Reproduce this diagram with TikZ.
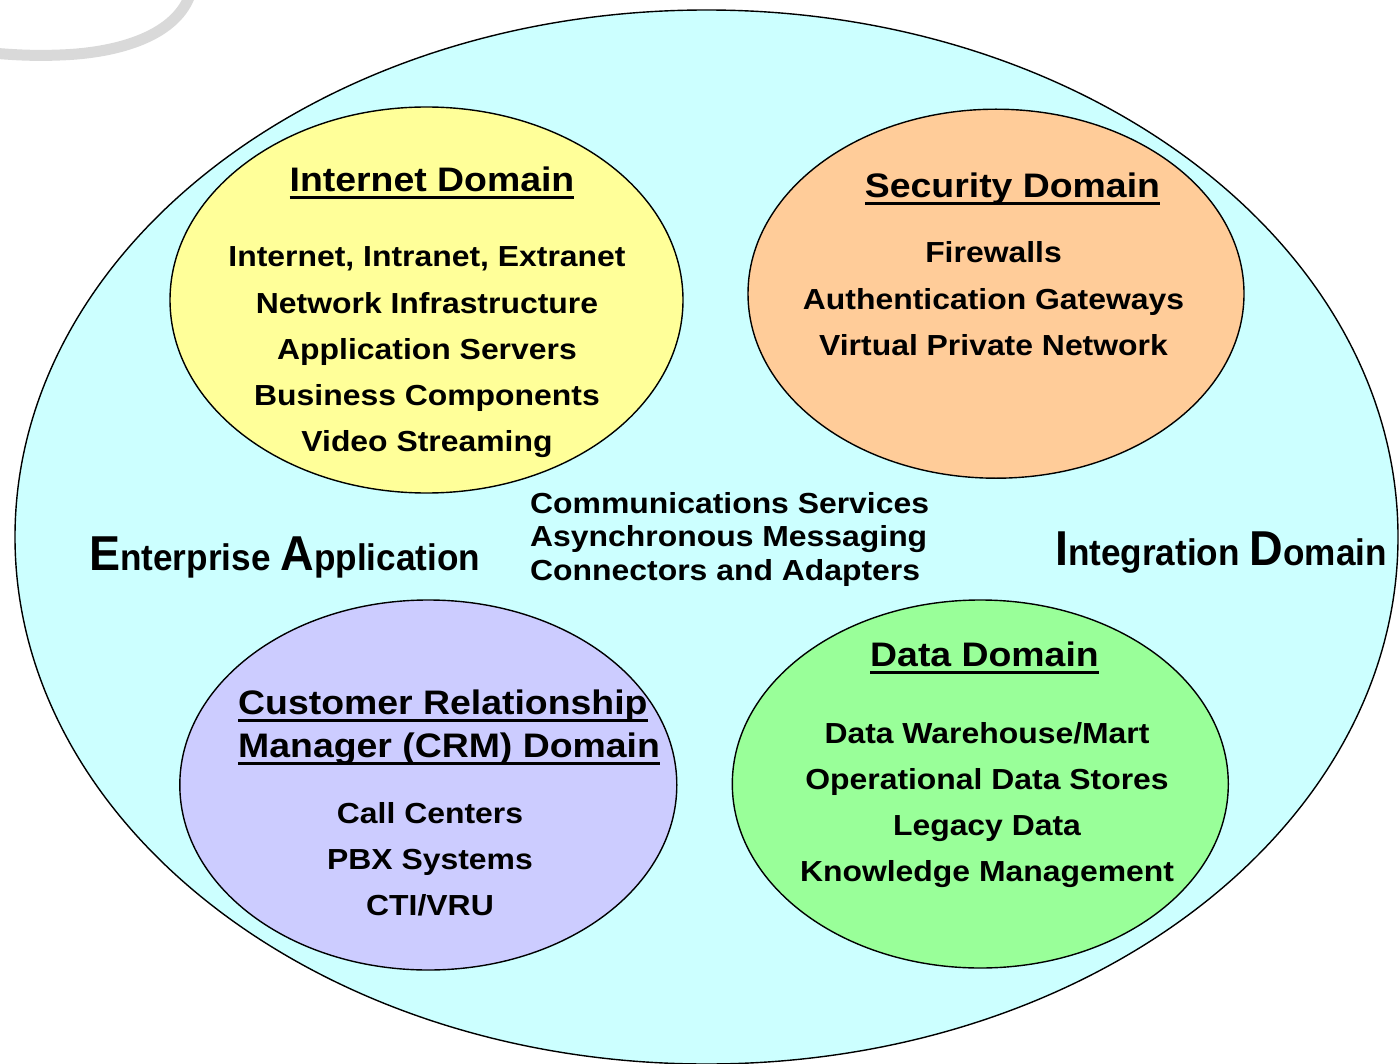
\documentclass[tikz,border=0pt]{standalone}
\usepackage{fontspec}
\setmainfont{Liberation Sans}[FakeStretch=1.1]
\newfontfamily\narrowsf{Liberation Sans}[FakeStretch=0.95]
\usepackage{tikz}
\usetikzlibrary{shapes.geometric}
\definecolor{skyfill}{HTML}{CCFFFF}
\definecolor{inetfill}{HTML}{FFFF99}
\definecolor{secfill}{HTML}{FFCC99}
\definecolor{crmfill}{HTML}{CCCCFF}
\definecolor{datafill}{HTML}{99FF99}
\definecolor{logogray}{HTML}{D9D9D9}
\newcommand\ulhead[1]{\setbox0\hbox{#1}\rlap{\rule[-7.5pt]{\wd0}{3pt}}\box0}
\newcommand\capletter[1]{{\fontsize{49}{50}\selectfont #1}}
\tikzset{
    zone/.style={ellipse, draw, line width=1.4pt, inner sep=0pt},
    head/.style={font=\fontsize{34}{40}\selectfont\bfseries, anchor=base, inner sep=0pt},
    item/.style={font=\fontsize{29}{34}\selectfont\bfseries, anchor=base, inner sep=0pt},
    sidelabel/.style={font=\narrowsf\bfseries\fontsize{37}{44}\selectfont, inner sep=0pt}
}

\begin{document}
\begin{tikzpicture}[x=1pt,y=-1pt]
    \useasboundingbox (0,0) rectangle (1399,1064);
    \clip (0,0) rectangle (1399,1064);
    \draw[line width=11pt, logogray] (191,-8) .. controls (178,35) and (120,53) .. (60,55) .. controls (35,56) and (15,55) .. (-8,53);

    \node[zone, fill=skyfill, minimum width=1383pt, minimum height=1054pt] (eai) at (706.5,537) {};
    \node[zone, fill=inetfill, minimum width=513pt, minimum height=386pt] (inet) at (426.5,300) {};
    \node[zone, fill=secfill, minimum width=496pt, minimum height=369pt] (sec) at (996,293.7) {};
    \node[zone, fill=crmfill, minimum width=497pt, minimum height=370pt] (crm) at (428.3,785) {};
    \node[zone, fill=datafill, minimum width=496pt, minimum height=368pt] (data) at (980.3,784) {};

    \node[head] (inettitle) at (432,192) {\ulhead{Internet Domain}};
    \foreach \t [count=\i from 0] in {{Internet, Intranet, Extranet},Network Infrastructure,Application Servers,Business Components,Video Streaming}
        \node[item] (inet\i) at (427,267+46*\i) {\t};

    \node[head] (sectitle) at (1012.5,198) {\ulhead{Security Domain}};
    \foreach \t [count=\i from 0] in {Firewalls,Authentication Gateways,Virtual Private Network}
        \node[item] (sec\i) at (993.5,263+46*\i) {\t};

    \node[head, anchor=base west] (crmtitle) at (238,714) {\ulhead{Customer Relationship}};
    \node[head, anchor=base west] (crmtitlb) at (238,757) {\ulhead{Manager (CRM) Domain}};
    \foreach \t [count=\i from 0] in {Call Centers,PBX Systems,CTI/VRU}
        \node[item] (crm\i) at (430,823+46*\i) {\t};

    \node[head] (datatitle) at (984.5,666) {\ulhead{Data Domain}};
    \foreach \t [count=\i from 0] in {Data Warehouse/Mart,Operational Data Stores,Legacy Data,Knowledge Management}
        \node[item] (data\i) at (987,743+46*\i) {\t};

    \foreach \t [count=\i from 0] in {Communications Services,Asynchronous Messaging,Connectors and Adapters}
        \node[item, anchor=base west] (mid\i) at (530,513+33.5*\i) {\t};

    \node[sidelabel, anchor=base west] (entlabel) at (89,570) {\capletter{E}nterprise \capletter{A}pplication};
    \node[sidelabel, anchor=base east] (intlabel) at (1387,565) {\capletter{I}ntegration \capletter{D}omain};
\end{tikzpicture}
\end{document}
